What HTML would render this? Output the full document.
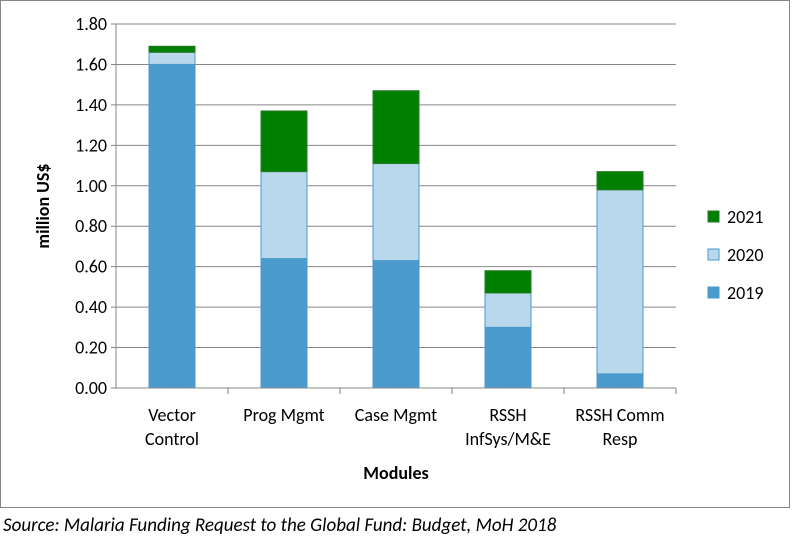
<!DOCTYPE html>
<html><head><meta charset="utf-8"><style>
body{margin:0;background:#fff;width:792px;height:537px;overflow:hidden;font-family:"Liberation Sans",sans-serif}
svg text{font-family:"Carlito","Liberation Sans",sans-serif}
</style></head><body>
<svg id="chart" width="792" height="537" xmlns="http://www.w3.org/2000/svg">
<rect x="0.5" y="0.5" width="789" height="507" fill="#fff" stroke="#868686"/>
<g id="grid"></g><g id="bars"></g><g id="axes"></g>
<text transform="translate(49,206) rotate(-90)" text-anchor="middle" font-size="18" font-weight="bold">million US$</text>
<text x="396" y="479" text-anchor="middle" font-size="18" font-weight="bold">Modules</text>
<text x="3" y="531" font-size="19" font-style="italic">Source: Malaria Funding Request to the Global Fund: Budget, MoH 2018</text>
<g id="legend"></g>
</svg>
<script>
const categories=[["Vector","Control"],["Prog Mgmt"],["Case Mgmt"],["RSSH","InfSys/M&E"],["RSSH Comm","Resp"]];
const series=["2019","2020","2021"];
const v2019=[1.60,0.64,0.63,0.30,0.07];
const v2020=[0.06,0.43,0.48,0.17,0.91];
const v2021=[0.03,0.30,0.36,0.11,0.09];
const yTicks=[0,0.2,0.4,0.6,0.8,1.0,1.2,1.4,1.6,1.8];
const colors=["#4a9bcb","#b9d8ec","#008000"];
const strokes=["#4a9bcb","#4a9bcb","#2a7a2a"];
const NS="http://www.w3.org/2000/svg";
const x0=116,x1=676,yb=388,yt=24;
const y=v=>yb-(v/1.8)*(yb-yt);
const band=(x1-x0)/categories.length;
const xc=i=>x0+band*(i+0.5);
function mk(tag,attrs,parent,txt){const e=document.createElementNS(NS,tag);for(const k in attrs)e.setAttribute(k,attrs[k]);if(txt!==undefined)e.textContent=txt;parent.appendChild(e);return e;}
const grid=document.getElementById('grid'),bars=document.getElementById('bars'),axes=document.getElementById('axes'),legend=document.getElementById('legend');
yTicks.forEach(t=>{
 const l=mk('line',{x1:x0-5,x2:x1,y1:y(t),y2:y(t),stroke:'#868686','stroke-width':1},grid);
 
 
 const tx=mk('text',{x:x0-9,y:y(t)+6,'text-anchor':'end','font-size':18},axes,t.toFixed(2));
 
 
});
const ax=mk('line',{x1:x0,x2:x0,y1:yt,y2:yb,stroke:'#868686'},axes);


const vals=[v2019,v2020,v2021];
const bw=46;
categories.forEach((c,i)=>{
 let base=0;
 vals.forEach((arr,s)=>{
  const top=base+arr[i];
  const r=mk('rect',{x:xc(i)-bw/2,y:y(top),width:bw,height:y(base)-y(top),fill:colors[s],stroke:strokes[s],'stroke-width':1},bars);
  
  
  base=top;
 });
 const tk=mk('line',{x1:x0+band*(i+1),x2:x0+band*(i+1),y1:yb,y2:yb+6,stroke:'#868686'},axes);
 
 
 c.forEach((line,j)=>{
  const t=mk('text',{x:xc(i),y:yb+33+j*24,'text-anchor':'middle','font-size':18},axes,line);
  
  
 });
});
const xa=mk('line',{x1:x0,x2:x1,y1:yb,y2:yb,stroke:'#868686'},axes);


[2,1,0].forEach((s,k)=>{
 const ly=217+k*38;
 const r=mk('rect',{x:708,y:ly-6,width:11,height:11,fill:colors[s],stroke:strokes[s]},legend);
 
 
 const t=mk('text',{x:727,y:ly+6,'font-size':18},legend,series[s]);
 
 
});
</script>
</body></html>
